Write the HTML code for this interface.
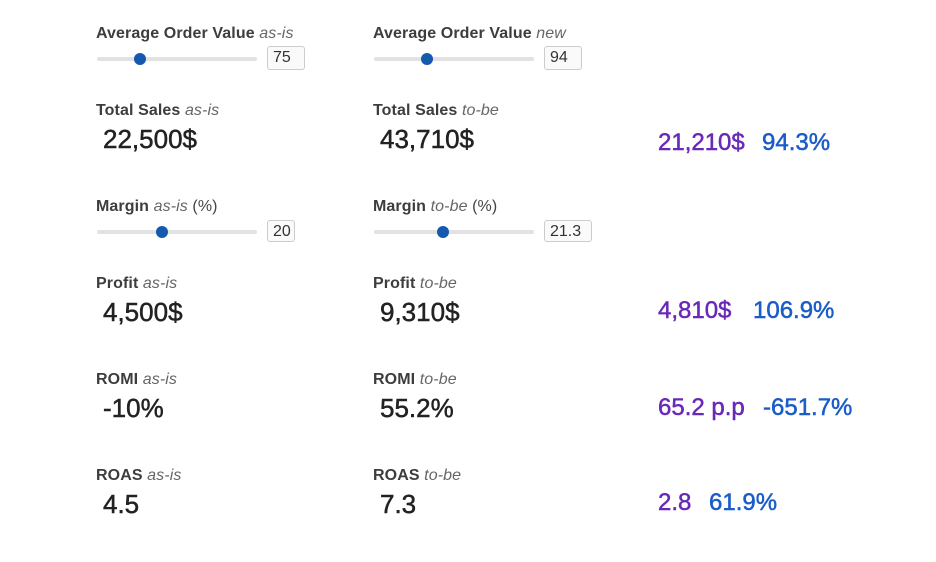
<!DOCTYPE html>
<html><head><style>
body{margin:0;width:936px;height:562px;background:#fff;font-family:"Liberation Sans",sans-serif;position:relative;overflow:hidden}
.a{position:absolute;white-space:nowrap}
.l{font-size:16px;font-weight:bold;color:#3d3d3d;line-height:16px;letter-spacing:0.1px}
.l i{font-weight:normal;color:#666}
.l span{font-weight:normal;color:#444}
.v{font-size:26px;color:#222;line-height:28px;-webkit-text-stroke:0.5px #222}
.p{font-size:24px;color:#6a28b8;line-height:26px;-webkit-text-stroke:0.5px #6a28b8}
.b{font-size:24px;color:#1a5cc8;line-height:26px;-webkit-text-stroke:0.5px #1a5cc8}
.t{position:absolute;height:4px;background:#e2e2e2;border-radius:2px;width:160px}
.k{position:absolute;width:12px;height:12px;border-radius:50%;background:#1459b0}
.in{position:absolute;height:22px;border:1px solid #ccc;border-radius:3px;background:#fafafa;font-size:16px;color:#333;line-height:22px;padding-left:5px;box-sizing:border-box}
</style></head><body>
<div class="a l" style="left:96px;top:26px">Average Order Value <i>as-is</i></div>
<div class="t" style="left:97px;top:57px"></div><div class="k" style="left:134px;top:53px"></div>
<div class="in" style="left:267px;top:46px;width:38px;height:24px">75</div>
<div class="a l" style="left:373px;top:26px">Average Order Value <i>new</i></div>
<div class="t" style="left:374px;top:57px"></div><div class="k" style="left:421px;top:53px"></div>
<div class="in" style="left:544px;top:46px;width:38px;height:24px">94</div>

<div class="a l" style="left:96px;top:103px">Total Sales <i>as-is</i></div>
<div class="a v" style="left:103px;top:125px">22,500$</div>
<div class="a l" style="left:373px;top:103px">Total Sales <i>to-be</i></div>
<div class="a v" style="left:380px;top:125px">43,710$</div>
<div class="a p" style="left:658px;top:130px">21,210$</div>
<div class="a b" style="left:762px;top:130px">94.3%</div>

<div class="a l" style="left:96px;top:199px">Margin <i>as-is</i> <span>(%)</span></div>
<div class="t" style="left:97px;top:230px"></div><div class="k" style="left:156px;top:226px"></div>
<div class="in" style="left:267px;top:220px;width:28px">20</div>
<div class="a l" style="left:373px;top:199px">Margin <i>to-be</i> <span>(%)</span></div>
<div class="t" style="left:374px;top:230px"></div><div class="k" style="left:437px;top:226px"></div>
<div class="in" style="left:544px;top:220px;width:48px">21.3</div>

<div class="a l" style="left:96px;top:276px">Profit <i>as-is</i></div>
<div class="a v" style="left:103px;top:298px">4,500$</div>
<div class="a l" style="left:373px;top:276px">Profit <i>to-be</i></div>
<div class="a v" style="left:380px;top:298px">9,310$</div>
<div class="a p" style="left:658px;top:298px">4,810$</div>
<div class="a b" style="left:753px;top:298px">106.9%</div>

<div class="a l" style="left:96px;top:372px">ROMI <i>as-is</i></div>
<div class="a v" style="left:103px;top:394px">-10%</div>
<div class="a l" style="left:373px;top:372px">ROMI <i>to-be</i></div>
<div class="a v" style="left:380px;top:394px">55.2%</div>
<div class="a p" style="left:658px;top:395px">65.2 p.p</div>
<div class="a b" style="left:763px;top:395px">-651.7%</div>

<div class="a l" style="left:96px;top:468px">ROAS <i>as-is</i></div>
<div class="a v" style="left:103px;top:490px">4.5</div>
<div class="a l" style="left:373px;top:468px">ROAS <i>to-be</i></div>
<div class="a v" style="left:380px;top:490px">7.3</div>
<div class="a p" style="left:658px;top:490px">2.8</div>
<div class="a b" style="left:709px;top:490px">61.9%</div>
</body></html>
